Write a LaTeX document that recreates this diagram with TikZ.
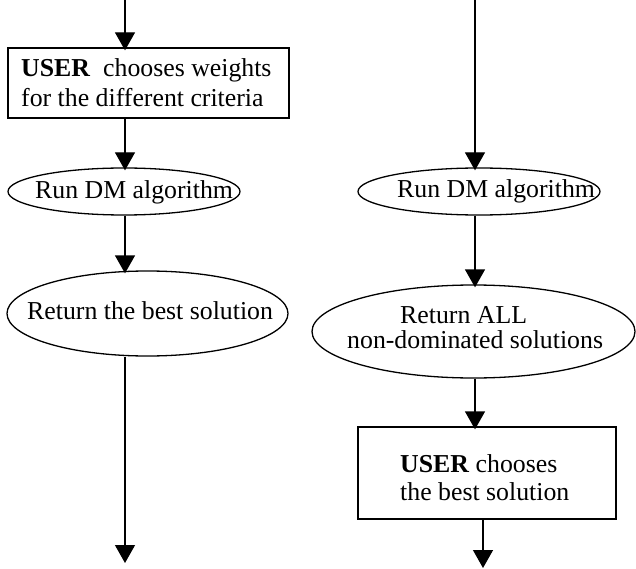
\documentclass[tikz,border=0pt]{standalone}
\usepackage{fontspec}
\setmainfont{Liberation Serif}
\usetikzlibrary{shapes.geometric,arrows.meta}
\tikzset{
  box/.style={draw,line width=1.3pt,rectangle,inner sep=0pt},
  oval/.style={draw,line width=1.3pt,ellipse,inner sep=0pt},
  lbl/.style={anchor=base west,inner sep=0pt,font=\fontsize{25.8}{30}\selectfont},
  arr/.style={line width=1.3pt,-{Triangle[width=20pt,length=18pt]},shorten >=-3pt}
}
\begin{document}
\begin{tikzpicture}[x=1pt,y=-1pt]
\useasboundingbox (0,0) rectangle (636,569);
% shapes
\node[box,minimum width=281pt,minimum height=70pt] (box1) at (148.5,83) {};
\node[oval,minimum width=232pt,minimum height=47pt] (e1L) at (124,191.5) {};
\node[oval,minimum width=281pt,minimum height=85pt] (e2L) at (147.5,313.5) {};
\node[oval,minimum width=242pt,minimum height=47pt] (e1R) at (479,191.5) {};
\node[oval,minimum width=323pt,minimum height=93pt] (e2R) at (473.5,331.5) {};
\node[box,minimum width=258pt,minimum height=92pt] (box2) at (487,473) {};
% texts
\node[lbl] (t1a) at (21,77) {\textbf{USER}\ \ chooses weights};
\node[lbl] (t1b) at (21,107) {for the different criteria};
\node[lbl] (t2) at (35,199) {Run DM algorithm};
\node[lbl] (t3) at (27,319) {Return the best solution};
\node[lbl] (t4) at (397,198) {Run DM algorithm};
\node[lbl] (t5a) at (400,323) {Return ALL};
\node[lbl] (t5b) at (347,348) {non-dominated solutions};
\node[lbl] (t6a) at (400,472) {\textbf{USER} chooses};
\node[lbl] (t6b) at (400,500) {the best solution};
% coordinates
\coordinate (inL) at (125,0);
\coordinate (outL) at (125,563);
\coordinate (inR) at (475,0);
\coordinate (outR) at (483,568);
% connectors
\draw[arr] (inL) -- (inL |- box1.north);
\draw[arr] (box1.south -| inL) -- (inL |- e1L.north);
\draw[arr] (e1L.south -| inL) -- (inL |- e2L.north);
\draw[arr,shorten >=0pt] (e2L.south -| inL) -- (outL);
\draw[arr] (inR) -- (inR |- e1R.north);
\draw[arr] (e1R.south -| inR) -- (inR |- e2R.north);
\draw[arr] (e2R.south -| inR) -- (inR |- box2.north);
\draw[arr,shorten >=0pt] (box2.south -| outR) -- (outR);
\end{tikzpicture}
\end{document}
